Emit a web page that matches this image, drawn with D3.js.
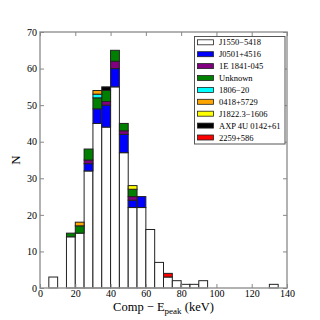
<!DOCTYPE html>
<html><head><meta charset="utf-8">
<script src="https://cdn.jsdelivr.net/npm/d3@7"></script>
<style>body{margin:0;background:#fff}svg{display:block}</style>
</head><body>
<script>
// bin starts (keV), width 5
const binStarts = d3.range(0, 140, 5);
const binWidth = 5;
const seriesNames = ["J1550\u22125418","J0501+4516","1E 1841-045","Unknown","1806\u221220","0418+5729","J1822.3\u22121606","AXP 4U 0142+61","2259+586"];
const seriesColors = ["#ffffff","#0000ff","#800080","#008000","#00ffff","#ffa500","#ffff00","#000000","#ff0000"];
const j1550   = [0,3,0,14,15,32,45,44,55,37,22,22,16,7,3,2,1,1,2,0,0,0,0,0,0,0,1,0];
const j0501   = [0,0,0,0,0,2,4,6,5,5,2,3,0,0,0,0,0,0,0,0,0,0,0,0,0,0,0,0];
const e1841   = [0,0,0,0,0,1,0,1,2,1,1,0,0,0,0,0,0,0,0,0,0,0,0,0,0,0,0,0];
const unknown = [0,0,0,1,2,3,3,3,3,2,2,0,0,0,0,0,0,0,0,0,0,0,0,0,0,0,0,0];
const s1806   = [0,0,0,0,0,0,1,0,0,0,0,0,0,0,0,0,0,0,0,0,0,0,0,0,0,0,0,0];
const s0418   = [0,0,0,0,1,0,1,0,0,0,0,0,0,0,0,0,0,0,0,0,0,0,0,0,0,0,0,0];
const j1822   = [0,0,0,0,0,0,0,0,0,0,1,0,0,0,0,0,0,0,0,0,0,0,0,0,0,0,0,0];
const axp     = [0,0,0,0,0,0,0,1,0,0,0,0,0,0,0,0,0,0,0,0,0,0,0,0,0,0,0,0];
const s2259   = [0,0,0,0,0,0,0,0,0,0,0,0,0,0,1,0,0,0,0,0,0,0,0,0,0,0,0,0];
const xTicks = [0,20,40,60,80,100,120,140];
const yTicks = [0,10,20,30,40,50,60,70];

const seriesValues = [j1550,j0501,e1841,unknown,s1806,s0418,j1822,axp,s2259];
const W = 320, H = 320;
const m = {l:40, r:33, t:32, b:32};
const svg = d3.select("body").append("svg").attr("width",W).attr("height",H);
const x = d3.scaleLinear().domain([0,140]).range([m.l, W-m.r]);
const y = d3.scaleLinear().domain([0,70]).range([H-m.b, m.t]);
const font = "Liberation Serif, Times New Roman, serif";

// table for stacking
const table = binStarts.map((b,i)=>{
  const o = {bin:b};
  seriesNames.forEach((n,k)=>o[n]=seriesValues[k][i]);
  return o;
});
const stack = d3.stack().keys(seriesNames)(table);

stack.forEach((layer,k)=>{
  svg.append("g").selectAll("rect").data(layer.filter(d=>d[1]>d[0])).join("rect")
    .attr("x", d=>x(d.data.bin))
    .attr("width", d=>x(d.data.bin+binWidth)-x(d.data.bin))
    .attr("y", d=>y(d[1]))
    .attr("height", d=>y(d[0])-y(d[1]))
    .attr("fill", seriesColors[k])
    .attr("stroke", "#222")
    .attr("stroke-width", 1);
});

// frame
svg.append("rect").attr("x",m.l).attr("y",m.t).attr("width",W-m.l-m.r).attr("height",H-m.t-m.b)
  .attr("fill","none").attr("stroke","#999").attr("stroke-width",1.5);

const tickLen = 4;
function styleAxis(g){
  g.select(".domain").remove();
  g.selectAll(".tick line").attr("stroke","#888").attr("stroke-width",1);
  g.selectAll(".tick text").attr("font-family",font).attr("font-size",10).attr("fill","#000");
}
svg.append("g").attr("transform",`translate(0,${H-m.b})`)
  .call(d3.axisBottom(x).tickValues(xTicks).tickSize(-tickLen).tickPadding(2))
  .call(styleAxis);
svg.append("g").attr("transform",`translate(0,${m.t})`)
  .call(d3.axisTop(x).tickValues(xTicks).tickSize(-tickLen).tickFormat(""))
  .call(styleAxis);
svg.append("g").attr("transform",`translate(${m.l},0)`)
  .call(d3.axisLeft(y).tickValues(yTicks).tickSize(-tickLen).tickPadding(3))
  .call(styleAxis);
svg.append("g").attr("transform",`translate(${W-m.r},0)`)
  .call(d3.axisRight(y).tickValues(yTicks).tickSize(-tickLen).tickFormat(""))
  .call(styleAxis);

// axis labels
const xl = svg.append("text").attr("x",(m.l+W-m.r)/2).attr("y",311)
  .attr("text-anchor","middle").attr("font-family",font).attr("font-size",12.5);
xl.append("tspan").text("Comp \u2212 E");
xl.append("tspan").attr("dy",3).attr("font-size",9).text("peak");
xl.append("tspan").attr("dy",-3).text(" (keV)");
svg.append("text").attr("transform",`translate(20,${(m.t+H-m.b)/2}) rotate(-90)`)
  .attr("text-anchor","middle").attr("font-family",font).attr("font-size",13).text("N");

// legend
const lg = svg.append("g");
lg.append("rect").attr("x",194.5).attr("y",36.5).attr("width",90.5).attr("height",107.5)
  .attr("fill","#fff").attr("stroke","#555").attr("stroke-width",1);
seriesNames.forEach((n,k)=>{
  const cy = 42.3 + k*11.9;
  lg.append("rect").attr("x",197.5).attr("y",cy-2.5).attr("width",16).attr("height",5)
    .attr("fill",seriesColors[k]).attr("stroke","#222").attr("stroke-width",0.8);
  lg.append("text").attr("x",219).attr("y",cy+3).attr("font-family",font).attr("font-size",8.5).text(n);
});
</script>
</body></html>
